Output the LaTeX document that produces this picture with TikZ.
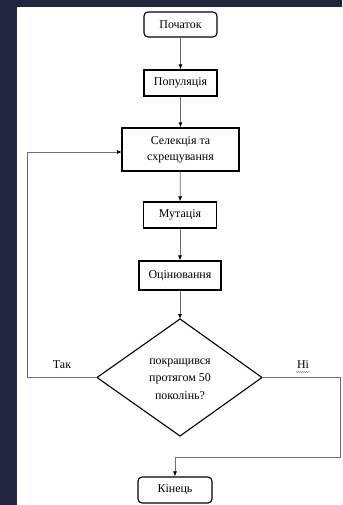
\documentclass[tikz,border=0pt]{standalone}
\usepackage{fontspec}
\setmainfont{Liberation Serif}
\usetikzlibrary{shapes.geometric,arrows.meta,decorations.pathmorphing}
\definecolor{bgdark}{RGB}{32,38,60}
\definecolor{lineg}{RGB}{110,110,110}
\begin{document}
\begin{tikzpicture}[x=1bp,y=-1bp,
  box/.style={draw=black,line width=1.1bp,minimum height=26bp,inner sep=2bp,font=\fontsize{12}{16}\selectfont,align=center},
  term/.style={box,rounded corners=4bp},
  link/.style={draw=lineg,line width=0.8bp,-{Latex[length=5bp,width=4bp,black]}},
  lbl/.style={font=\fontsize{12}{14}\selectfont}]
\fill[bgdark] (0,0) rectangle (342,505);
\fill[white] (17,7) rectangle (342,505);
\useasboundingbox (0,0) rectangle (342,505);
\node[term,minimum width=73bp,minimum height=25bp] (start) at (180.5,24.5) {Початок};
\node[box,minimum width=73bp] (pop) at (180.5,83) {Популяція};
\node[box,minimum width=117bp,minimum height=43bp] (sel) at (180.5,149.5) {Селекція та\\схрещування};
\node[box,minimum width=73bp] (mut) at (180,215) {Мутація};
\node[box,minimum width=82bp,minimum height=29bp] (eval) at (180,275.5) {Оцінювання};
\draw[line width=1.1bp] (97,377.5) -- (180,319) -- (262,377.5) -- (180,436) -- cycle;
\node[font=\fontsize{12}{17.5}\selectfont,align=center] (dec) at (180,379) {покращився\\протягом 50\\поколінь?};
\coordinate (dw) at (97,377.5);
\coordinate (de) at (262,377.5);
\coordinate (dn) at (180,319);
\node[term,minimum width=74bp] (end) at (175,490) {Кінець};
\coordinate (lt) at (27,377.5);
\coordinate (rt) at (340,377.5);
\coordinate (rb) at (340,457);
\coordinate (sl) at (122,152);
\draw[link] (start) -- (pop);
\draw[link] (pop) -- (sel);
\draw[link] (sel) -- (mut);
\draw[link] (mut) -- (eval);
\draw[link] (eval) -- (dn);
\draw[link] (dw) -- (lt) |- (sl);
\draw[link] (de) -- (rt) -- (rb) -| (end.north);
\node[lbl] (yes) at (62,365) {Так};
\node[lbl] (no) at (303,365) {Ні};
\draw[red!70,line width=0.4bp,decorate,decoration={snake,amplitude=0.6bp,segment length=2bp}] (296,372) -- (310,372);
\end{tikzpicture}
\end{document}
